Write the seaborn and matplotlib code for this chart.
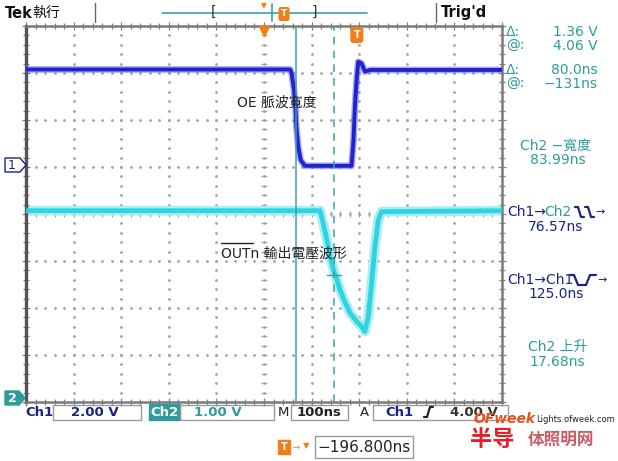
import numpy as np
import pandas as pd
import matplotlib
matplotlib.use("Agg")
import matplotlib.pyplot as plt
import seaborn as sns
from matplotlib.patches import Rectangle, Polygon
from matplotlib.lines import Line2D
from matplotlib.ticker import MultipleLocator

# ---------------- data ----------------
ch1_time_ns = [-500, 55, 58, 63, 66, 68, 72, 77, 86, 184, 188, 191, 195, 198, 205, 212, 223, 500]
ch1_volts = [4.15, 4.15, 3.99, 3.28, 2.57, 1.71, 0.86, 0.30, 0.05, 0.05, 1.15, 2.57, 3.84, 4.48, 4.41, 4.06, 4.13, 4.13]

ch2_time_ns = [-500, 118, 121, 126, 132, 139, 146, 153, 160, 170, 181, 195, 205, 212, 219, 226, 233, 240, 247, 500]
ch2_volts = [4.07, 4.07, 3.94, 3.73, 3.45, 3.09, 2.81, 2.60, 2.38, 2.13, 1.89, 1.71, 1.60, 1.50, 1.81, 2.52, 3.30, 3.87, 4.05, 4.07]

ch1_volts_per_div = 2.0
ch1_offset_div = 1.0
ch2_volts_per_div = 1.0
ch2_offset_div = -4.0
time_per_div_ns = 100

cursor_times_ns = [67, 147]
ch2_cursor_level_v = 2.70
trigger_level_time_ns = 195
trigger_level_div = 3.81

readouts_left = ["Δ:", "@:", "Δ:", "@:"]
readouts_right = ["1.36 V", "4.06 V", "80.0ns", "−131ns"]
measure_titles = ["Ch2 −寬度", "Ch1→Ch2", "Ch1→Ch1", "Ch2 上升"]
measure_values = ["83.99ns", "76.57ns", "125.0ns", "17.68ns"]

# ---------------- style ----------------
sns.set_style("white")
plt.rcParams['font.family'] = ['DejaVu Sans', 'Noto Sans CJK TC']

W, H = 618, 461
fig = plt.figure(figsize=(W / 100, H / 100), dpi=100)
fig.patch.set_facecolor("white")

def fx(x):
    return x / W

def fy(y):
    return 1 - y / H

def ftext(x, y, s, **kw):
    kw.setdefault("va", "center")
    return fig.text(fx(x), fy(y), s, **kw)

def fline(xs, ys, **kw):
    fig.add_artist(Line2D([fx(v) for v in xs], [fy(v) for v in ys],
                          transform=fig.transFigure, **kw))

def fbox(x0, y0, x1, y1, ec="#9a9a9a", fc="none", lw=1.0):
    fig.add_artist(Rectangle((fx(x0), fy(y1)), fx(x1) - fx(x0), fy(y0) - fy(y1),
                             transform=fig.transFigure, ec=ec, fc=fc, lw=lw))

NAVY = "#1b2480"
TEAL = "#2f9b9b"
CUR = "#3aa0ab"
ORANGE = "#f07f1a"
GRID = "#a3a3a3"

# ---------------- graticule ----------------
ax = fig.add_axes([fx(26), fy(402), fx(502) - fx(26), fy(26) - fy(402)])
ax.set_xlim(-5 * time_per_div_ns, 5 * time_per_div_ns)
ax.set_ylim(-4, 4)
ax.set_facecolor("white")

step_x = time_per_div_ns / 5
for gx in range(-4, 5):
    ys = np.arange(-4, 4.01, 0.2)
    ax.plot([gx * time_per_div_ns] * len(ys), ys, ls="none", marker="o", ms=1.0,
            color=GRID, zorder=1)
for gy in range(-3, 4):
    xs = np.arange(-500, 500.1, step_x)
    ax.plot(xs, [gy] * len(xs), ls="none", marker="o", ms=1.0, color=GRID, zorder=1)
# center cross tick marks
ys = np.arange(-4, 4.01, 0.2)
ax.plot([0] * len(ys), ys, ls="none", marker="_", ms=5, mew=0.8, color=GRID, zorder=1)
xs = np.arange(-500, 500.1, step_x)
ax.plot(xs, [0] * len(xs), ls="none", marker="|", ms=5, mew=0.8, color=GRID, zorder=1)

ax.xaxis.set_major_locator(MultipleLocator(time_per_div_ns))
ax.xaxis.set_minor_locator(MultipleLocator(step_x))
ax.yaxis.set_major_locator(MultipleLocator(1))
ax.yaxis.set_minor_locator(MultipleLocator(0.2))
ax.tick_params(which="both", direction="inout", top=True, right=True, bottom=True, left=True,
               labelbottom=False, labelleft=False, color="#808080", width=0.9)
ax.tick_params(which="major", length=6)
ax.tick_params(which="minor", length=4)
for s in ax.spines.values():
    s.set_color("#7a7a7a")
    s.set_linewidth(1.8)
ax.spines["left"].set_color("#555555")
ax.spines["left"].set_linewidth(2.4)

# ---------------- traces ----------------
df1 = pd.DataFrame({"t": ch1_time_ns,
                    "div": np.array(ch1_volts) / ch1_volts_per_div + ch1_offset_div})
df2 = pd.DataFrame({"t": ch2_time_ns,
                    "div": np.array(ch2_volts) / ch2_volts_per_div + ch2_offset_div})

sns.lineplot(data=df2, x="t", y="div", ax=ax, sort=False, estimator=None,
             color="#a8edf3", lw=7, zorder=2)
sns.lineplot(data=df2, x="t", y="div", ax=ax, sort=False, estimator=None,
             color="#2fd4e0", lw=3.4, zorder=3)
sns.lineplot(data=df1, x="t", y="div", ax=ax, sort=False, estimator=None,
             color="#6262f0", lw=4.8, alpha=0.55, zorder=3)
sns.lineplot(data=df1, x="t", y="div", ax=ax, sort=False, estimator=None,
             color="#2222d2", lw=2.8, zorder=4)
ax.set_xlabel("")
ax.set_ylabel("")

# cursors
ax.axvline(cursor_times_ns[0], color=CUR, lw=1.1, zorder=5)
ax.axvline(cursor_times_ns[1], color=CUR, lw=1.1, ls=(0, (5, 4)), zorder=5)
lvl = ch2_cursor_level_v / ch2_volts_per_div + ch2_offset_div
ax.plot([cursor_times_ns[1] - 14, cursor_times_ns[1] + 14], [lvl, lvl], color=CUR, lw=1, zorder=5)

# trigger markers
ax.plot([0], [3.9], marker="v", ms=7, color=ORANGE, zorder=6, clip_on=False)
ax.text(trigger_level_time_ns, trigger_level_div, "T", color="white", fontsize=7,
        fontweight="bold", ha="center", va="center", zorder=7,
        bbox=dict(boxstyle="round,pad=0.25", fc=ORANGE, ec=ORANGE))

# annotations inside
ftext(237, 103, "OE 脈波寬度", fontsize=10, color="#222222")
ftext(221, 254, "OUTn 輸出電壓波形", fontsize=10, color="#222222")
fline([221, 253], [243, 243], color="#222222", lw=1)

# ---------------- top bar ----------------
ftext(5, 13, "Tek", fontsize=10.5, fontweight="bold", color="#111111")
ftext(32, 13, "執行", fontsize=10, color="#111111")
fline([95, 95], [3, 22], color="#666666", lw=1)
fline([436, 436], [3, 22], color="#666666", lw=1)
ftext(441, 12, "Trig'd", fontsize=10.5, fontweight="bold", color="#111111")
fline([162, 367], [13, 13], color=CUR, lw=1.2)
ftext(213, 12, "[", fontsize=10, color="#333333", ha="center")
ftext(314, 12, "]", fontsize=10, color="#333333", ha="center")
fline([272, 272], [4, 21], color=CUR, lw=1.2)
ftext(264, 6, "▼", fontsize=5.5, color=ORANGE, ha="center")
ftext(284, 14, "T", fontsize=6.5, color="white", fontweight="bold", ha="center",
      bbox=dict(boxstyle="round,pad=0.2", fc=ORANGE, ec=ORANGE))

# ---------------- channel markers ----------------
fig.add_artist(Polygon([(fx(5), fy(158)), (fx(20), fy(158)), (fx(26), fy(165)),
                        (fx(20), fy(172)), (fx(5), fy(172))], closed=True,
                       transform=fig.transFigure, fc="white", ec=NAVY, lw=1))
ftext(12, 165, "1", fontsize=9, color=NAVY, ha="center")
fig.add_artist(Polygon([(fx(5), fy(391)), (fx(19), fy(391)), (fx(25), fy(398)),
                        (fx(19), fy(405)), (fx(5), fy(405))], closed=True,
                       transform=fig.transFigure, fc=TEAL, ec=TEAL, lw=1))
ftext(12, 398, "2", fontsize=9, color="white", fontweight="bold", ha="center")

# ---------------- right readouts ----------------
for i, (yl, lab, val) in enumerate(zip([32, 46, 70, 84], readouts_left, readouts_right)):
    ftext(506, yl, lab, fontsize=10, color=TEAL)
    ftext(598, yl, val, fontsize=10, color=TEAL, ha="right")

ftext(556, 146, measure_titles[0], fontsize=10, color=TEAL, ha="center")
ftext(558, 160, measure_values[0], fontsize=10, color=TEAL, ha="center")

ftext(507, 212, "Ch1→", fontsize=10, color=NAVY)
ftext(544, 212, "Ch2", fontsize=10, color=TEAL)
for x0 in (575, 585):
    fline([x0, x0 + 3, x0 + 6, x0 + 9], [207, 207, 217, 217], color=NAVY, lw=1.6)
ftext(595, 212, "→", fontsize=8, color=NAVY)
ftext(556, 227, measure_values[1], fontsize=10, color=NAVY, ha="center")

ftext(507, 280, measure_titles[2], fontsize=10, color=NAVY)
fline([570, 574, 578, 586, 590, 596], [275, 275, 285, 285, 275, 275], color=NAVY, lw=1.6)
ftext(597, 280, "→", fontsize=8, color=NAVY)
ftext(556, 294, measure_values[2], fontsize=10, color=NAVY, ha="center")

ftext(558, 347, measure_titles[3], fontsize=10, color=TEAL, ha="center")
ftext(557, 362, measure_values[3], fontsize=10, color=TEAL, ha="center")

# ---------------- bottom bar ----------------
ftext(25, 412, "Ch1", fontsize=9.5, fontweight="bold", color=NAVY)
fbox(53, 405, 141, 420)
ftext(95, 412, "2.00 V", fontsize=9.5, fontweight="bold", color=NAVY, ha="center")
fbox(149, 404, 180, 420, ec=TEAL, fc=TEAL)
ftext(164.5, 412, "Ch2", fontsize=9.5, fontweight="bold", color="white", ha="center")
fbox(180, 405, 274, 420)
ftext(218, 412, "1.00 V", fontsize=9.5, fontweight="bold", color=TEAL, ha="center")
ftext(283, 412, "M", fontsize=9.5, color="#222222", ha="center")
fbox(291, 405, 348, 420)
ftext(319, 412, "100ns", fontsize=9.5, fontweight="bold", color="#222222", ha="center")
ftext(364, 412, "A", fontsize=9.5, color="#222222", ha="center")
fbox(373, 405, 508, 420)
ftext(399, 412, "Ch1", fontsize=9.5, fontweight="bold", color=NAVY, ha="center")
fline([424, 427, 430, 433], [417, 417, 407, 407], color="#222222", lw=1.6)
ftext(498, 412, "4.00 V", fontsize=9.5, fontweight="bold", color="#333333", ha="right")

ftext(284, 447, "T", fontsize=7, color="white", fontweight="bold", ha="center",
      bbox=dict(boxstyle="square,pad=0.25", fc=ORANGE, ec=ORANGE))
ftext(296, 447, "→", fontsize=6, color=ORANGE, ha="center")
ftext(306, 446, "▼", fontsize=6, color=ORANGE, ha="center")
fbox(315, 436, 413, 458)
ftext(364, 447, "−196.800ns", fontsize=11, color="#222222", ha="center")

# watermark
ftext(474, 419, "OFweek", fontsize=10, fontweight="bold", style="italic", color="#e8501e")
ftext(536, 419, "Lights.ofweek.com", fontsize=6, color="#222222")
ftext(470, 440, "半导", fontsize=16, fontweight="bold", color="#e0202a")
ftext(528, 440, "体照明网", fontsize=12, fontweight="bold", color="#c0404a", alpha=0.85)

fig.savefig("out.png", dpi=100, facecolor="white")
